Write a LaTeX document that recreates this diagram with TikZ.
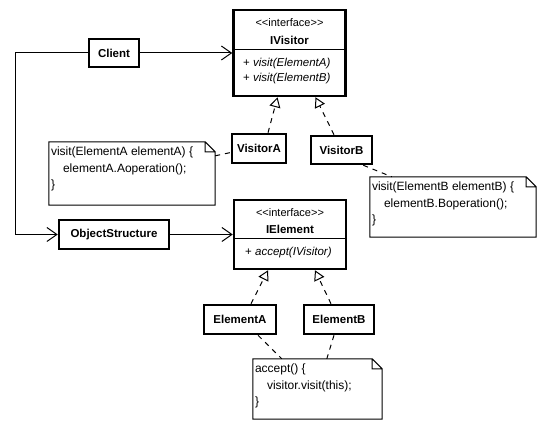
\documentclass[tikz,border=0pt]{standalone}
\usepackage{fontspec}
\setmainfont{Liberation Sans}
\usetikzlibrary{
  arrows.meta,
  calc}

\tikzset{
  cls/.style={draw, line width=2.5pt, inner sep=0pt,
    font=\bfseries\fontsize{11.5}{14}\selectfont},
  note/.style={inner sep=0pt},
  notetxt/.style={anchor=north west, inner sep=0pt, align=left,
    font=\fontsize{12}{16.5}\selectfont},
  stereo/.style={inner sep=0pt, font=\fontsize{11}{12}\selectfont},
  iname/.style={inner sep=0pt, font=\bfseries\fontsize{11.5}{14}\selectfont},
  ops/.style={anchor=west, inner sep=0pt, align=left,
    font=\fontsize{11.5}{15}\selectfont},
  assoc/.style={line width=1pt, -{Straight Barb[length=10pt,width=14pt]}},
  realize/.style={line width=1pt, dash pattern=on 5pt off 5pt,
    -{Triangle[open,length=10pt,width=11pt]}},
  notelink/.style={line width=1pt, dash pattern=on 5pt off 5pt}
}

\begin{document}
\begin{tikzpicture}[x=1pt,y=-1pt]
  \useasboundingbox (0,0) rectangle (544,430);

  % visitor interface
  \node[cls, minimum width=112, minimum height=86] (iv) at (289.5,53) {};
  \node[stereo] (iv-st) at (289.5,23) {<{}<interface>{}>};
  \node[iname] (iv-nm) at (289.5,40) {IVisitor};
  \coordinate (iv-div) at (289.5,50);
  \draw[line width=1pt, shorten <=1.25pt, shorten >=1.25pt]
    (iv.west |- iv-div) -- (iv.east |- iv-div);
  \node[ops] (iv-op) at (243,71.5) {+ \textit{visit(ElementA)}\\+ \textit{visit(ElementB)}};

  \node[cls, minimum width=50, minimum height=28] (cl) at (114,53) {Client};
  \node[cls, minimum width=54, minimum height=29] (va) at (259,148.5) {VisitorA};
  \node[cls, minimum width=61, minimum height=28] (vb) at (341.5,150) {VisitorB};

  % element interface
  \node[cls, minimum width=112, minimum height=69] (ie) at (290,234.5) {};
  \node[stereo] (ie-st) at (290,213) {<{}<interface>{}>};
  \node[iname] (ie-nm) at (290,229) {IElement};
  \coordinate (ie-div) at (290,239);
  \draw[line width=1pt, shorten <=1.25pt, shorten >=1.25pt]
    (ie.west |- ie-div) -- (ie.east |- ie-div);
  \node[ops] (ie-op) at (245,253) {+ \textit{accept(IVisitor)}};

  \node[cls, minimum width=110, minimum height=29] (os) at (114,234.5) {ObjectStructure};
  \node[cls, minimum width=72, minimum height=29] (ea) at (240,319.5) {ElementA};
  \node[cls, minimum width=70, minimum height=29] (eb) at (339,319.5) {ElementB};

  % notes
  \node[note, minimum width=166, minimum height=63] (na) at (132,173.5) {};
  \node[notetxt] (na-txt) at ($(na.north west)+(2,5)$)
    {visit(ElementA elementA) \{\\\hspace*{12pt}elementA.Aoperation();\\\}};
  \node[note, minimum width=166, minimum height=60] (nb) at (453,207) {};
  \node[notetxt] (nb-txt) at ($(nb.north west)+(2,5)$)
    {visit(ElementB elementB) \{\\\hspace*{12pt}elementB.Boperation();\\\}};
  \node[note, minimum width=129, minimum height=60] (nc) at (317.5,389) {};
  \node[notetxt] (nc-txt) at ($(nc.north west)+(2,5)$)
    {accept() \{\\\hspace*{12pt}visitor.visit(this);\\\}};

  \foreach \n in {na,nb,nc}
    \draw[line width=1pt] (\n.north west) -- ($(\n.north east)+(-10,0)$)
      -- ($(\n.north east)+(0,10)$) -- (\n.south east) -- (\n.south west) -- cycle
      ($(\n.north east)+(-10,0)$) |- ($(\n.north east)+(0,10)$);

  % associations
  \coordinate (lft) at (15,53);
  \draw[assoc] (cl) -- (iv);
  \draw[assoc] (cl.west) -- (lft) |- (os.west);
  \draw[assoc] (os) -- (ie);

  % realizations
  \draw[realize] ($(va.north)+(9,0)$) -- ($(iv.south)+(-12,0)$);
  \draw[realize] ($(vb.north)+(-7.5,0)$) -- ($(iv.south)+(26,0)$);
  \draw[realize] ($(ea.north)+(11,0)$) -- ($(ie.south)+(-22,0)$);
  \draw[realize] ($(eb.north)+(-8,0)$) -- ($(ie.south)+(25,0)$);

  % note links
  \draw[notelink] ($(na.north east)+(0,14)$) -- ($(va.west)+(0,4)$);
  \draw[notelink] ($(vb.south east)+(-10,0)$) -- ($(nb.north west)+(22,0)$);
  \draw[notelink] ($(ea.south)+(18,0)$) -- ($(nc.north west)+(29,0)$);
  \draw[notelink] ($(eb.south)+(-5,0)$) -- ($(nc.north west)+(74,0)$);
\end{tikzpicture}
\end{document}
